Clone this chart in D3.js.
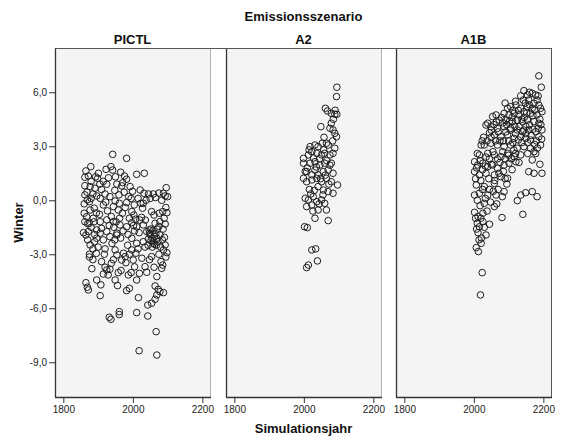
<!DOCTYPE html>
<html>
<head>
<meta charset="utf-8">
<script src="https://cdn.jsdelivr.net/npm/d3@7"></script>
<style>
  body { margin: 0; background: #fff; }
  svg { display: block; }
  text { font-family: "Liberation Sans", Arial, sans-serif; }
</style>
</head>
<body>
<svg id="chart" width="562" height="438"></svg>
<script>
// Facet categories (emission scenarios)
const scenarios = ["PICTL", "A2", "A1B"];

// [Simulationsjahr, Winter] per scenario
const pictl = [
  [1942,2.55],[1982,2.33],
  [1865,1.63],[1879,1.87],[1872,1.35],[1862,1.28],[1901,1.5],[1899,1.22],[1923,1.72],[1937,1.87],[1942,1.68],[1965,1.56],[1976,1.35],[1982,1.17],[2011,1.44],[2033,1.5],
  [1862,0.81],[1877,0.76],[1891,0.67],[1925,0.89],[1954,0.9],[1971,0.98],[1992,0.76],[2021,0.57],[2032,0.39],[2045,0.35],[2059,0.35],[2096,0.7],[2088,0.39],[2100,0.2],[2093,0.24],
  [1869,0.02],[1875,-0.08],[1896,0.24],[1906,0.11],[1920,0.35],[1934,0.2],[1949,-0.04],[1961,-0.17],[1982,-0.13],[2004,-0.26],[2030,-0.17],
  [1860,-0.72],[1867,-0.91],[1877,-0.54],[1889,-0.44],[1904,-0.78],[1915,-0.26],[1927,-0.59],[1944,-0.35],[1958,-0.54],[1970,-0.72],[1997,-0.63],[2003,-0.82],[2023,-0.17],[2028,-0.44],[2054,-0.63],[2061,-0.82],[2076,-0.72],[2086,-0.63],[2098,-0.69],
  [1862,-1.19],[1875,-1.28],[1886,-1.0],[1906,-1.19],[1925,-1.09],[1944,-1.19],[1963,-1.37],[1982,-1.47],[1997,-1.24],[2011,-1.47],[2030,-1.37],[2047,-1.65],[2064,-1.28],[2078,-1.19],[2093,-1.32],
  [1858,-1.8],[1865,-1.93],[1896,-1.65],[1910,-1.56],[1925,-1.74],[1954,-1.83],[2040,-1.74],[2048,-1.83],
  [1872,-1.74],[1896,-2.11],[1906,-1.83],[1934,-2.02],[1954,-1.93],[1997,-2.11],[2011,-2.39],[2030,-2.3],[2059,-2.39],[2069,-2.11],[2078,-1.93],
  [1877,-2.48],[1875,-3.0],[1875,-3.15],[1882,-3.8],[1910,-3.41],[1920,-3.72],[1925,-3.87],[1934,-3.83],[1929,-4.15],[1944,-3.3],[1949,-2.76],[1954,-3.04],[1958,-4.02],[1949,-4.43],[1956,-4.74],
  [1865,-4.58],[1869,-4.83],[1872,-4.98],[1896,-4.43],[1908,-4.7],[1906,-5.3],[1932,-6.5],[1937,-6.61],[1961,-6.19],[1961,-6.35],[1982,-5.02],[1990,-4.89],[1987,-4.15],[1995,-4.02],[2011,-4.43],[2019,-4.06],[2016,-5.41],[2011,-6.24],[2043,-6.43],[2043,-5.82],[2054,-5.72],[2018,-8.36],[2067,-7.3],[2069,-8.6],[2064,-5.5],[2069,-5.26],[2064,-4.76],[2073,-4.95],[2078,-5.08],[2088,-5.13],[2069,-4.24],[2061,-3.72],[2054,-3.13],[2081,-3.41],[2086,-3.6],[2083,-3.78],[2088,-2.76],[2098,-2.91],[2093,-2.48],[2091,-2.06],[2035,-3.69],[2026,-3.22],[2001,-3.32],[2009,-2.94],[1997,-2.76],[1968,-3.32],[1978,-3.13],[1980,-3.47],[1973,-2.94],
  [2050,-1.9],[2055,-2.1],[2058,-1.7],[2062,-2.0],[2066,-1.85],[2052,-2.25],[2045,-2.15],[2070,-1.6],[2063,-2.45],[2072,-2.3],[2080,-2.6],[2085,-2.2],[2090,-1.0],[2095,-0.4],[2083,0.0],[2087,-1.6],
  [1880,1.05],[1868,0.45],[1885,0.35],[1893,1.3],[1910,0.6],[1915,1.05],[1930,1.25],[1948,0.55],[1960,0.3],[1975,0.45],[1988,0.2],[1999,0.5],[2015,0.1],[2038,0.0],[2050,0.1],[2065,0.15],[2075,0.4],
  [1880,-1.5],[1890,-2.3],[1900,-2.6],[1915,-2.2],[1920,-2.7],[1940,-2.4],[1945,-1.5],[1965,-2.1],[1972,-1.7],[1985,-2.5],[1990,-1.0],[2005,-1.7],[2015,-2.7],[2020,-1.1],[2035,-2.6],[2025,-0.95],[1938,-0.9],[1952,-1.2],[1895,-0.7],[1870,-2.2],[1860,-0.2],[1862,0.3],[1890,-1.9],[1978,-0.4],[2008,-1.05],
  [1885,-3.3],[1895,-2.95],[1938,-3.5],[1966,-3.9],[2005,-3.7],[2048,-3.3],[2075,-3.0],[2095,-3.15],[2040,-4.0],[1915,-4.1],
  [2052,-1.6],[2060,-2.25],[2068,-2.5],[2056,-2.6],[2075,-1.45],[2044,-2.5],[1880,0.1],[1870,-1.3],[1888,-1.2],[1922,-0.1],[1932,-1.4],[1948,-2.2],[1962,-1.0],[1986,-1.9],[2002,-1.4],[2018,-1.8],[2036,-1.1],[1995,0.1],[1968,0.8],[1950,1.3],[1905,0.9],[1885,-2.7],[1918,-3.0],[1990,-3.0]
];

const a2 = [
  [2095,6.28],[2094,5.76],[2062,5.11],[2068,4.96],[2079,4.83],[2089,4.78],[2095,4.78],[2049,4.09],[2079,4.28],[2075,4.0],[2084,3.91],[2094,3.53],[2089,3.72],
  [2018,2.98],[2032,3.07],[2041,2.98],[2053,3.17],[2065,3.17],[2070,3.07],[2089,2.89],
  [1999,2.33],[2013,2.52],[2023,2.7],[2037,2.61],[2051,2.52],[2060,2.61],[2075,2.52],[2084,2.61],
  [1999,2.06],[2018,2.06],[2032,2.14],[2046,1.96],[2060,2.06],[2079,2.06],
  [2008,1.59],[2023,1.41],[2032,1.68],[2041,1.41],[2056,1.59],[2070,1.68],[2084,1.5],
  [1999,1.22],[2008,1.03],[2023,1.13],[2037,1.22],[2051,1.03],[2065,1.22],[2079,1.03],
  [2041,0.76],[2056,0.57],[2070,0.48],[2084,0.39],[2097,0.85],
  [2004,0.11],[2013,0.02],[2027,0.2],[2037,-0.08],[2051,0.02],[2060,-0.17],
  [2008,-0.35],[2023,-0.26],[2041,-0.54],[2065,-0.54],
  [2032,-1.0],[2070,-1.13],[2002,-1.47],[2010,-1.52],[2023,-2.76],[2034,-2.7],[2039,-3.37],[2008,-3.74],[2013,-3.6],
  [2045,2.3],[2028,2.35],[2057,2.8],[2066,2.2],[2010,1.8],[2015,2.8],[2048,1.2],[2072,0.9],[2030,0.55],[2016,0.6],[2055,0.3],[2075,1.95],[2083,3.3],[2004,1.6],[2026,-0.6],[2044,-0.2],[2058,3.5],[2085,4.5],[2090,5.0],[2020,0.35],[2036,1.85],[2062,1.4]
];

const a1b = [
  [2187,6.91],[2194,6.28],[2144,6.09],[2154,5.85],[2168,5.94],[2178,5.85],[2142,5.57],[2158,5.57],[2173,5.39],[2182,5.57],
  [2121,5.29],[2135,5.11],[2154,5.2],[2168,5.11],[2187,5.29],[2192,5.11],
  [2097,5.11],[2106,5.2],[2087,4.83],[2101,4.74],[2116,4.83],[2130,4.74],[2144,4.92],[2163,4.83],[2182,4.74],[2196,4.92],
  [2064,4.74],[2054,4.65],[2092,4.46],[2111,4.37],[2125,4.46],[2140,4.37],[2154,4.46],[2173,4.37],[2187,4.28],
  [2040,4.28],[2035,4.18],[2049,4.09],[2068,4.0],[2087,4.09],[2106,4.0],[2125,3.91],[2140,3.81],[2158,3.91],[2178,3.81],[2196,3.91],
  [2059,3.63],[2078,3.53],[2097,3.63],[2116,3.44],[2135,3.53],[2149,3.44],[2163,3.35],[2187,3.53],
  [2021,3.07],[2030,3.07],[2049,3.17],[2068,3.07],[2087,2.98],[2106,3.07],[2125,2.89],[2144,2.98],[2163,2.89],[2192,3.07],
  [2016,2.52],[2040,2.61],[2059,2.52],[2078,2.42],[2097,2.61],[2116,2.42],[2135,2.52],[2173,2.7],[2168,2.24],
  [2002,2.14],[2011,1.96],[2026,2.06],[2040,1.87],[2054,1.96],[2068,1.78],[2087,1.96],[2101,2.06],[2121,2.14],
  [2002,1.59],[2016,1.41],[2035,1.5],[2059,1.41],[2078,1.31],[2097,1.22],[2158,1.59],[2173,1.5],[2196,1.5],
  [2007,0.85],[2030,0.76],[2059,0.94],[2087,0.48],[2082,0.2],[2064,0.29],[2040,0.29],[2002,0.29],[2016,0.39],
  [2135,0.29],[2149,0.42],[2168,0.48],[2182,0.2],[2125,-0.02],
  [2030,-0.17],[2059,-0.35],[2066,-0.2],[2002,-0.67],[2026,-0.72],[2081,-0.96],[2141,-0.78],
  [2010,-1.28],[2026,-1.19],[2045,-1.33],[2012,-1.8],[2035,-1.93],[2016,-1.47],
  [2007,-2.63],[2021,-2.39],[2013,-2.85],[2024,-4.02],[2019,-5.26],
  [2050,3.5],[2070,3.8],[2085,3.3],[2095,4.2],[2110,4.6],[2120,3.7],[2130,4.1],[2145,4.6],[2150,3.7],[2160,4.2],[2170,4.7],[2175,3.1],[2185,4.0],[2190,4.5],[2100,3.3],[2115,2.8],[2045,2.3],[2025,1.7],[2055,2.7],[2075,2.1],[2090,2.3],[2110,1.7],[2060,1.1],[2045,0.6],[2020,1.1],[2005,1.2],[2010,0.0],[2025,0.6],[2070,0.6],[2095,0.9],[2050,3.9],[2065,4.35],[2080,4.6],[2120,5.5],[2160,5.3],[2135,5.8],[2150,4.1],[2180,3.3],[2195,3.4],[2035,2.4],[2010,2.6],[2028,3.5],[2075,3.3],[2105,3.9],[2138,3.2],[2165,3.6],[2085,1.6],[2100,2.5],[2130,2.1],[2155,2.6],[2178,2.6],[2190,2.0],[2005,-1.0],[2018,-0.3],[2022,-2.1],[2038,-0.6],
  [2090,5.4],[2112,5.0],[2128,5.0],[2148,5.4],[2175,5.0],[2185,5.8],[2160,6.0],[2138,4.5],[2118,4.1],[2103,4.4],[2083,4.3],[2073,4.45],[2058,4.2],[2045,3.75],[2062,3.3],[2092,3.8],[2112,3.2],[2128,3.35],[2144,3.9],[2155,3.2],[2170,3.95],[2183,2.9],[2193,4.2],[2152,4.85],[2120,2.6],[2108,2.3],[2083,2.7],[2068,2.3],[2050,2.0],[2033,1.9],[2018,2.2],[2008,1.8],[2043,1.2],[2072,1.5],[2090,1.2],[2012,-0.9],[2008,-1.6],[2020,-1.0],[2015,-2.2],[2030,-1.5],[2048,-0.1],[2056,0.5],[2033,0.1],[2024,3.3],[2038,3.3]
];

const seriesByScenario = [pictl, a2, a1b];

// Axis ticks and labels
const yearTicks = [1800, 2000, 2200];
const winterTicks = [-9, -6, -3, 0, 3, 6];
const chartTitle = "Emissionsszenario";
const xTitle = "Simulationsjahr";
const yTitle = "Winter";

// ---- layout ----
const svg = d3.select("#chart");
const panelLeft = [55, 226, 396];
const panelW = 155;
const plotTop = 48, plotBottom = 397;

const x = d3.scaleLinear().domain([1776, 2222]).range([0, panelW]);
const y = d3.scaleLinear().domain([-10.93, 8.46]).range([plotBottom, plotTop]);

const deLocale = d3.formatLocale({ decimal: ",", thousands: ".", grouping: [3], currency: ["", " €"], minus: "-" });
const fmtY = deLocale.format(".1f");

svg.append("rect").attr("width", 562).attr("height", 438).attr("fill", "#fff");

// Panels
scenarios.forEach((name, i) => {
  const g = svg.append("g").attr("transform", `translate(${panelLeft[i]},0)`);

  g.append("rect")
    .attr("x", 0).attr("y", plotTop)
    .attr("width", panelW).attr("height", plotBottom - plotTop)
    .attr("fill", "#f4f4f4");

  // right edge (light), outermost panel darker
  g.append("line")
    .attr("x1", panelW + 0.5).attr("x2", panelW + 0.5)
    .attr("y1", plotTop).attr("y2", plotBottom)
    .attr("stroke", i === scenarios.length - 1 ? "#555" : "#b0b0b0")
    .attr("stroke-width", 1);

  // points
  g.append("g")
    .selectAll("circle")
    .data(seriesByScenario[i])
    .join("circle")
    .attr("cx", d => x(d[0]))
    .attr("cy", d => y(d[1]))
    .attr("r", 3.3)
    .attr("fill", "none")
    .attr("stroke", "#1e1e1e")
    .attr("stroke-width", 1);

  // left and bottom axis lines
  g.append("line")
    .attr("x1", 0.5).attr("x2", 0.5).attr("y1", plotTop).attr("y2", plotBottom)
    .attr("stroke", "#333").attr("stroke-width", 1.3);
  g.append("line")
    .attr("x1", 0).attr("x2", panelW + 1).attr("y1", plotBottom + 0.5).attr("y2", plotBottom + 0.5)
    .attr("stroke", "#333").attr("stroke-width", 1.3);

  // x axis
  const xa = g.append("g")
    .attr("transform", `translate(0,${plotBottom})`)
    .call(d3.axisBottom(x).tickValues(yearTicks).tickFormat(d3.format("d")).tickSize(6).tickPadding(3));
  xa.select(".domain").remove();
  xa.selectAll(".tick line").attr("stroke", "#333");
  xa.selectAll(".tick text").attr("font-size", 10).attr("fill", "#222")
    .attr("font-family", "Liberation Sans, Arial, sans-serif");

  // panel label
  g.append("text")
    .attr("x", panelW / 2).attr("y", 44)
    .attr("text-anchor", "middle")
    .attr("font-size", 13).attr("font-weight", "bold").attr("fill", "#111")
    .text(name);
});

// top frame line across all panels
svg.append("line")
  .attr("x1", panelLeft[0]).attr("x2", panelLeft[2] + panelW + 1)
  .attr("y1", plotTop + 0.5).attr("y2", plotTop + 0.5)
  .attr("stroke", "#555").attr("stroke-width", 1);

// y axis on first panel
const ya = svg.append("g")
  .attr("transform", `translate(${panelLeft[0]},0)`)
  .call(d3.axisLeft(y).tickValues(winterTicks).tickFormat(fmtY).tickSize(6).tickPadding(2));
ya.select(".domain").remove();
ya.selectAll(".tick line").attr("stroke", "#333");
ya.selectAll(".tick text").attr("font-size", 10).attr("fill", "#222")
  .attr("font-family", "Liberation Sans, Arial, sans-serif");

// titles
const midX = panelLeft[1] + panelW / 2;
svg.append("text")
  .attr("x", midX).attr("y", 21)
  .attr("text-anchor", "middle")
  .attr("font-size", 13).attr("font-weight", "bold").attr("fill", "#111")
  .text(chartTitle);

svg.append("text")
  .attr("x", midX).attr("y", 433)
  .attr("text-anchor", "middle")
  .attr("font-size", 13).attr("font-weight", "bold").attr("fill", "#111")
  .text(xTitle);

svg.append("text")
  .attr("transform", `translate(23,${(plotTop + plotBottom) / 2}) rotate(-90)`)
  .attr("text-anchor", "middle")
  .attr("font-size", 13).attr("font-weight", "bold").attr("fill", "#111")
  .text(yTitle);
</script>
</body>
</html>
